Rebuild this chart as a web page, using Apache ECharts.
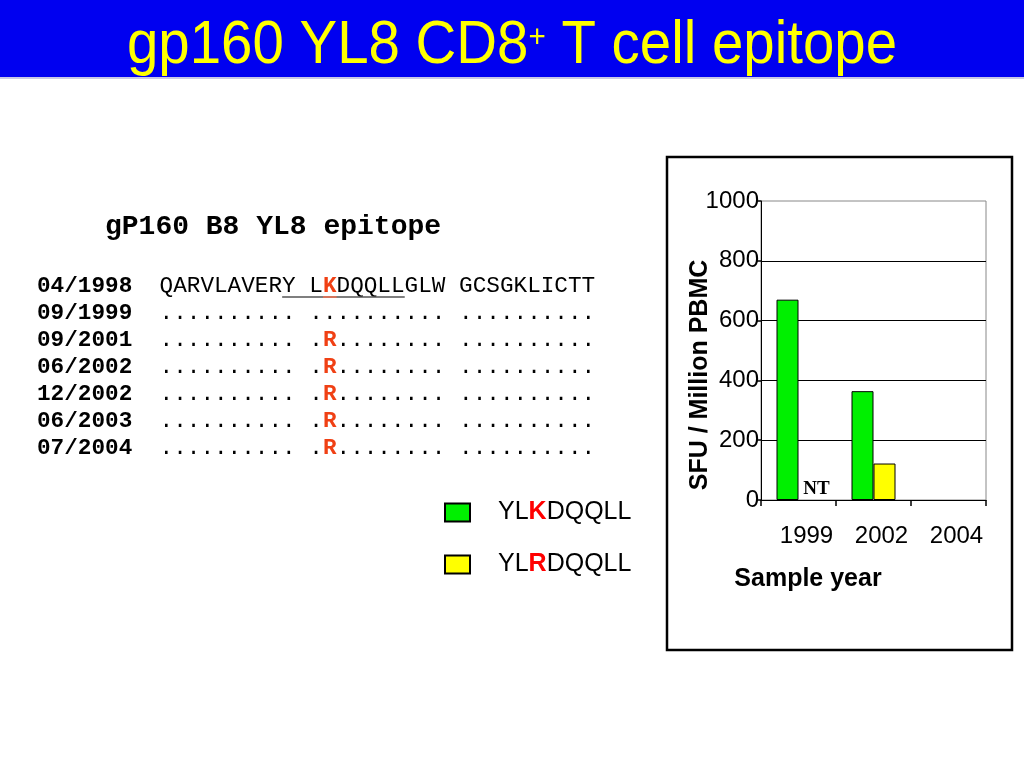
<!DOCTYPE html>
<html>
<head>
<meta charset="utf-8">
<script src="https://cdn.jsdelivr.net/npm/echarts@6/dist/echarts.min.js"></script>
<style>
html,body{margin:0;padding:0;background:#fff;}
#main{width:1024px;height:768px;}
</style>
</head>
<body>
<div id="main"></div>
<script>
// ---- data ----
var years = ['1999', '2002', '2004'];
var ylkValues = [670, 364, '-'];          // YLKDQQLL (green)
var ylrValues = [0, 122, '-'];            // YLRDQQLL (yellow); 1999 = NT
var ylrLabels = ['NT', '', ''];
var yTicks = [0, 200, 400, 600, 800, 1000];
var seriesNames = ['YLKDQQLL', 'YLRDQQLL'];
var sampleDates = ['04/1998', '09/1999', '09/2001', '06/2002', '12/2002', '06/2003', '07/2004'];
var sequences = [
  'QARVLAVERY LKDQQLLGLW GCSGKLICTT',
  '.......... .......... ..........',
  '.......... .R........ ..........',
  '.......... .R........ ..........',
  '.......... .R........ ..........',
  '.......... .R........ ..........',
  '.......... .R........ ..........'
];
var mutIndex = 12;
var titleText = 'gp160 YL8 CD8';
var alignTitle = 'gP160 B8 YL8 epitope';

var chart = echarts.init(document.getElementById('main'));

var seqFont = 22.7;
var cw = seqFont * 0.6;
var rowX = 37, rowY0 = 286, rowDy = 27;

var graphics = [];
// title bar
graphics.push({type:'rect', shape:{x:0,y:0,width:1024,height:77}, style:{fill:'#0000f0'}, z:0});
graphics.push({type:'rect', shape:{x:0,y:77,width:1024,height:2}, style:{fill:'#c8c8e6'}, z:0});
graphics.push({
  type:'text', x:512, y:46, scaleX:0.925, z:5,
  style:{
    text: titleText + '{sup|+}{m| T cell epitope}',
    font: '61px "Liberation Sans", Arial, sans-serif',
    fill:'#ffff00', align:'center', verticalAlign:'middle',
    rich:{
      sup:{fontSize:32, fontFamily:'"Liberation Sans", Arial, sans-serif', fill:'#ffff00', verticalAlign:'top', padding:[7,0,0,0]},
      m:{fontSize:61, fontFamily:'"Liberation Sans", Arial, sans-serif', fill:'#ffff00'}
    }
  }
});
// alignment heading
graphics.push({
  type:'text', x:105, y:227,
  style:{text: alignTitle, font:'bold 28px "Liberation Mono", "Courier New", monospace', fill:'#000', align:'left', verticalAlign:'middle'}
});
// sequence rows
sampleDates.forEach(function(d, i){
  var s = sequences[i];
  var c = s.charAt(mutIndex);
  var midStyle = (c === '.') ? 's' : 'm';
  var txt = '{d|' + d + '}{s|  ' + s.slice(0, mutIndex) + '}{' + midStyle + '|' + c + '}{s|' + s.slice(mutIndex + 1) + '}';
  graphics.push({
    type:'text', x:rowX, y:rowY0 + i*rowDy,
    style:{
      text: txt, align:'left', verticalAlign:'middle',
      font: seqFont + 'px "Liberation Mono", monospace',
      rich:{
        d:{fontFamily:'"Liberation Mono", monospace', fontSize:seqFont, fontWeight:'bold', fill:'#000'},
        s:{fontFamily:'"Liberation Mono", monospace', fontSize:seqFont, fill:'#000'},
        m:{fontFamily:'"Liberation Mono", monospace', fontSize:seqFont, fontWeight:'bold', fill:'#f04014'}
      }
    }
  });
});
// underline of epitope in consensus
var ulStart = rowX + 18*cw, ulEnd = rowX + 27*cw;
graphics.push({type:'line', shape:{x1:ulStart, y1:297, x2:ulEnd, y2:297}, style:{stroke:'#555', lineWidth:1.5}});
graphics.push({type:'line', shape:{x1:rowX + 21*cw, y1:297, x2:rowX + 22*cw, y2:297}, style:{stroke:'#f07050', lineWidth:1.5}});
// chart frame
graphics.push({type:'rect', shape:{x:667, y:157, width:345, height:493}, style:{fill:'none', stroke:'#000', lineWidth:2.5}});
// y axis title
graphics.push({
  type:'text', x:700, y:375, rotation: Math.PI/2,
  style:{text:'SFU / Million PBMC', font:'bold 25px "Liberation Sans", Arial, sans-serif', fill:'#000', align:'center', verticalAlign:'middle'}
});
// x axis title
graphics.push({
  type:'text', x:808, y:579,
  style:{text:'Sample year', font:'bold 25px "Liberation Sans", Arial, sans-serif', fill:'#000', align:'center', verticalAlign:'middle'}
});

var legendRich = {
  a:{fontSize:25, fontFamily:'"Liberation Sans", Arial, sans-serif', color:'#000'},
  k:{fontSize:25, fontFamily:'"Liberation Sans", Arial, sans-serif', color:'#ff0000', fontWeight:'bold'}
};

var option = {
  animation:false,
  backgroundColor:'#fff',
  grid:{left:761, top:201, width:225, height:299, show:true, borderColor:'#888', borderWidth:1, backgroundColor:'transparent'},
  legend:{
    orient:'vertical', left:444, top:500, padding:0,
    data: seriesNames, icon:'rect', itemWidth:25, itemHeight:18, itemGap:27,
    textStyle:{fontSize:25, fontFamily:'"Liberation Sans", Arial, sans-serif', color:'#000', padding:[0,0,0,23], rich:legendRich},
    formatter:function(name){ return '{a|' + name.slice(0,2) + '}{k|' + name.charAt(2) + '}{a|' + name.slice(3) + '}'; }
  },
  xAxis:{
    type:'category', data: years, boundaryGap:true,
    axisLine:{show:true, lineStyle:{color:'#000', width:1}},
    axisTick:{show:true, alignWithLabel:false, length:6, lineStyle:{color:'#000', width:1.5}},
    axisLabel:{fontSize:24, fontFamily:'"Liberation Sans", Arial, sans-serif', color:'#000', margin:24, padding:[0,0,0,16]},
    splitLine:{show:false}
  },
  yAxis:{
    type:'value', min:0, max:1000, interval:200,
    axisLine:{show:true, lineStyle:{color:'#000', width:1}},
    axisTick:{show:true, length:5, lineStyle:{color:'#000', width:1.5}},
    axisLabel:{fontSize:24, fontFamily:'"Liberation Sans", Arial, sans-serif', color:'#000', margin:2,
      formatter:function(v){ return String(v); }},
    splitLine:{show:true, showMaxLine:false, showMinLine:false, lineStyle:{color:'#000', width:1}}
  },
  series:[
    {
      name: seriesNames[0], type:'bar', data: ylkValues, barWidth:22, barGap:'0%',
      itemStyle:{color:'#00f000', borderColor:'#000', borderWidth:1}
    },
    {
      name: seriesNames[1], type:'bar', barWidth:22, barGap:'0%',
      itemStyle:{color:'#ffff00', borderColor:'#000', borderWidth:1},
      data: ylrValues.map(function(v, i){
        if (ylrLabels[i]) {
          return {value:v, itemStyle:{color:'transparent', borderWidth:0},
            label:{show:true, position:'top', distance:1, offset:[7,0], formatter:ylrLabels[i],
              fontFamily:'"Liberation Serif", "Times New Roman", serif', fontWeight:'bold', fontSize:19, color:'#000'}};
        }
        return v;
      })
    }
  ],
  graphic: graphics
};
chart.setOption(option);
</script>
</body>
</html>
